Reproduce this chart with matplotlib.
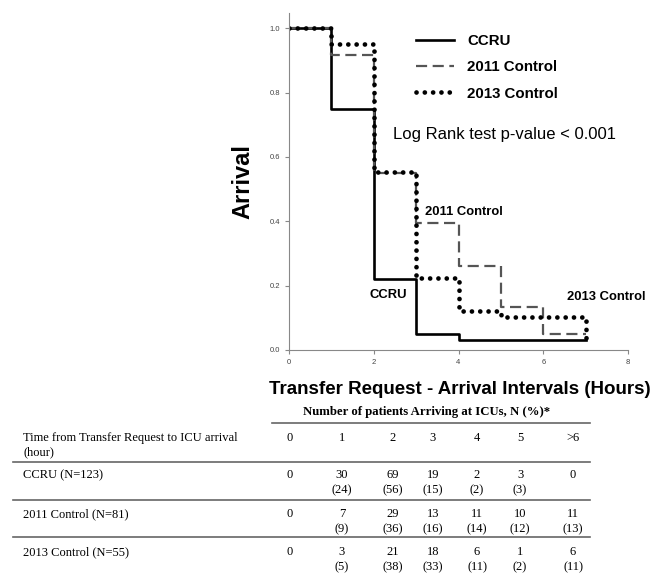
import numpy as np
import matplotlib
matplotlib.use("Agg")
import matplotlib.pyplot as plt

# step data (value holds from each hour to the next)
hours = [0, 1, 2, 3, 4, 5, 6, 7]
ccru = [1.0, 0.75, 0.22, 0.05, 0.03, 0.03, 0.03, 0.03]
ctrl_2011 = [1.0, 0.915, 0.55, 0.395, 0.26, 0.135, 0.05, 0.05]
ctrl_2013 = [1.0, 0.95, 0.553, 0.225, 0.121, 0.103, 0.103, 0.03]

# table below the chart
col_labels = ['0', '1', '2', '3', '4', '5', '>6']
row_names = ['CCRU (N=123)', '2011 Control (N=81)', '2013 Control (N=55)']
counts = [[0, 30, 69, 19, 2, 3, 0],
          [0, 7, 29, 13, 11, 10, 11],
          [0, 3, 21, 18, 6, 1, 6]]
pcts = [[None, 24, 56, 15, 2, 3, None],
        [None, 9, 36, 16, 14, 12, 13],
        [None, 5, 38, 33, 11, 2, 11]]

W, H = 665, 574
fig = plt.figure(figsize=(W / 100, H / 100), dpi=100)


def fx(x):
    return x / W


def fy(y):
    return 1 - y / H


ax = fig.add_axes([fx(289), fy(350), (628 - 289) / W, (350 - 13) / H])
ax.step(hours, ccru, where='post', color='black', lw=1.9, label='CCRU')
ax.step(hours, ctrl_2011, where='post', color='#555555', lw=1.6,
        linestyle=(0, (5, 2.5)), label='2011 Control')
ax.step(hours, ctrl_2013, where='post', color='black', lw=3.4,
        linestyle=(0, (0.01, 1.75)), dash_capstyle='round',
        label='2013 Control')

ax.set_xlim(0, 8)
ax.set_ylim(0, 1.047)
ax.set_xticks([0, 2, 4, 6, 8])
ax.set_yticks([0.0, 0.2, 0.4, 0.6, 0.8, 1.0])
ax.set_yticklabels(['0.0', '0.2', '0.4', '0.6', '0.8', '1.0'])
for s in ['top', 'right']:
    ax.spines[s].set_visible(False)
for s in ['left', 'bottom']:
    ax.spines[s].set_color('#888888')
    ax.spines[s].set_linewidth(0.8)
ax.tick_params(colors='#888888', labelcolor='#444444', labelsize=5.5,
               length=3, width=0.8)
for lab in ax.get_xticklabels() + ax.get_yticklabels():
    lab.set_family('Liberation Sans')

leg = ax.legend(loc='upper left', bbox_to_anchor=(0.335, 0.978), frameon=False,
                prop={'family': 'Liberation Sans', 'weight': 'bold', 'size': 10.8},
                handlelength=2.5, handletextpad=0.9, labelspacing=0.82)

ax.text(2.45, 0.668, 'Log Rank test p-value < 0.001', fontsize=12,
        family='Liberation Sans', va='center')
ax.text(3.2, 0.429, '2011 Control', fontsize=9.4, weight='bold',
        family='Liberation Sans', va='center')
ax.text(1.91, 0.171, 'CCRU', fontsize=9.4, weight='bold',
        family='Liberation Sans', va='center')
ax.text(7.48, 0.165, '2013 Control', fontsize=9.4, weight='bold',
        family='Liberation Sans', va='center', ha='center')

fig.text(fx(243), fy(182), 'Arrival', rotation=90, fontsize=17,
         weight='bold', family='Liberation Sans', ha='center', va='center')
fig.text(fx(460), fy(389), 'Transfer Request - Arrival Intervals (Hours)',
         fontsize=13.5, weight='bold', family='Liberation Sans',
         ha='center', va='center')

# table
serif = 'Liberation Serif'
fs = 9
fig.text(fx(427), fy(412), 'Number of patients Arriving at ICUs, N (%)*',
         fontsize=9.2, weight='bold', family=serif, ha='center', va='center')
line_kw = dict(color='#666666', lw=1.2)
fig.add_artist(plt.Line2D([fx(272), fx(590)], [fy(423), fy(423)], **line_kw))
for yl in [462, 500, 537]:
    fig.add_artist(plt.Line2D([fx(13), fx(590)], [fy(yl), fy(yl)], **line_kw))

col_x = [290, 342, 393, 433, 477, 520, 573]
fig.text(fx(23), fy(438), 'Time from Transfer Request to ICU arrival',
         fontsize=fs, family=serif, va='center')
fig.text(fx(23), fy(452), '(hour)', fontsize=fs, family=serif, va='center')
for x, lab in zip(col_x, col_labels):
    fig.text(fx(x), fy(438), lab, fontsize=fs, family=serif,
             ha='center', va='center')

row_y = [475, 514, 552]
for y, name, cnt, pc in zip(row_y, row_names, counts, pcts):
    fig.text(fx(23), fy(y), name, fontsize=fs, family=serif, va='center')
    for x, c, p in zip(col_x, cnt, pc):
        fig.text(fx(x), fy(y), str(c), fontsize=fs, family=serif,
                 ha='center', va='center')
        if p is not None:
            fig.text(fx(x), fy(y + 15), '(%d)' % p, fontsize=fs,
                     family=serif, ha='center', va='center')

fig.savefig('out.png', dpi=100, facecolor='white')
